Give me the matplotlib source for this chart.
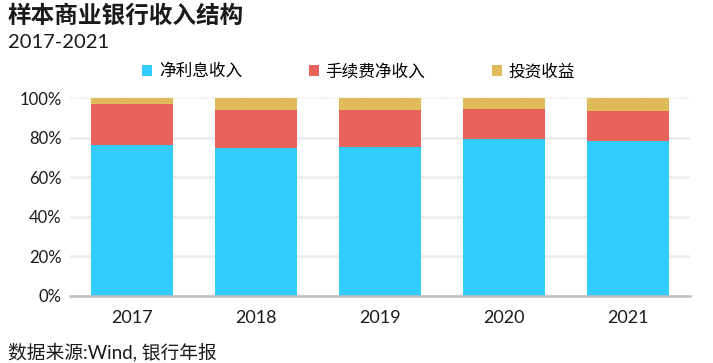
import numpy as np
import matplotlib
matplotlib.use("Agg")
import matplotlib.pyplot as plt
from matplotlib.ticker import PercentFormatter

plt.rcParams["font.family"] = ["Lato", "Noto Sans CJK SC", "DejaVu Sans"]

years = ["2017", "2018", "2019", "2020", "2021"]
net_interest = [76.3, 74.7, 75.3, 79.3, 78.3]
fee_income = [20.7, 19.2, 18.6, 15.1, 15.1]
invest_income = [3.0, 6.1, 6.1, 5.6, 6.6]
series_names = ["净利息收入", "手续费净收入", "投资收益"]

BLUE = "#33CCFF"; RED = "#E8615A"; GOLD = "#E1BA5A"
GRID = "#EBEBEB"; AXIS = "#BFBFBF"; INK = "#1A1A1A"

fig = plt.figure(figsize=(7.13, 3.63), dpi=100)
ax = fig.add_axes([0.098, 0.185, 0.870, 0.545])

x = np.arange(len(years))
ni = np.array(net_interest); fe = np.array(fee_income); iv = np.array(invest_income)
w = 0.66
ax.bar(x, ni, w, color=BLUE, label=series_names[0], zorder=3)
ax.bar(x, fe, w, bottom=ni, color=RED, label=series_names[1], zorder=3)
ax.bar(x, iv, w, bottom=ni + fe, color=GOLD, label=series_names[2], zorder=3)

ax.set_xlim(-0.5, len(years) - 0.5)
ax.set_ylim(0, 100)
ax.set_yticks(range(0, 101, 20))
ax.yaxis.set_major_formatter(PercentFormatter(decimals=0))
ax.set_xticks(x, years)
ax.grid(axis="y", color=GRID, lw=1.8, zorder=0)
# top gridline is drawn dotted in the reference
top = ax.get_ygridlines()[-1]
top.set_linestyle((0, (1, 1))); top.set_linewidth(1.2); top.set_clip_on(False)
for s in ["top", "right", "left"]:
    ax.spines[s].set_visible(False)
ax.spines["bottom"].set_color(AXIS)
ax.spines["bottom"].set_linewidth(1.8)
ax.spines["bottom"].set_zorder(4)
ax.tick_params(axis="y", length=0, labelsize=12, colors=INK, pad=6)
ax.tick_params(axis="x", length=0, labelsize=13, colors=INK, pad=10)

leg = ax.legend(loc="center", bbox_to_anchor=(0.503, 0.804), bbox_transform=fig.transFigure,
                ncol=3, frameon=False, fontsize=12, handlelength=0.6, handleheight=0.6,
                handletextpad=0.4, columnspacing=4.0)

fig.text(0.011, 0.957, "样本商业银行收入结构", fontsize=17, fontweight="bold",
         color=INK, va="center")
fig.text(0.011, 0.884, "2017-2021", fontsize=14.5, color=INK, va="center")
fig.text(0.011, 0.03, "数据来源:Wind, 银行年报", fontsize=13.5, color=INK, va="center")

fig.savefig("out.png", dpi=100, facecolor="white")
